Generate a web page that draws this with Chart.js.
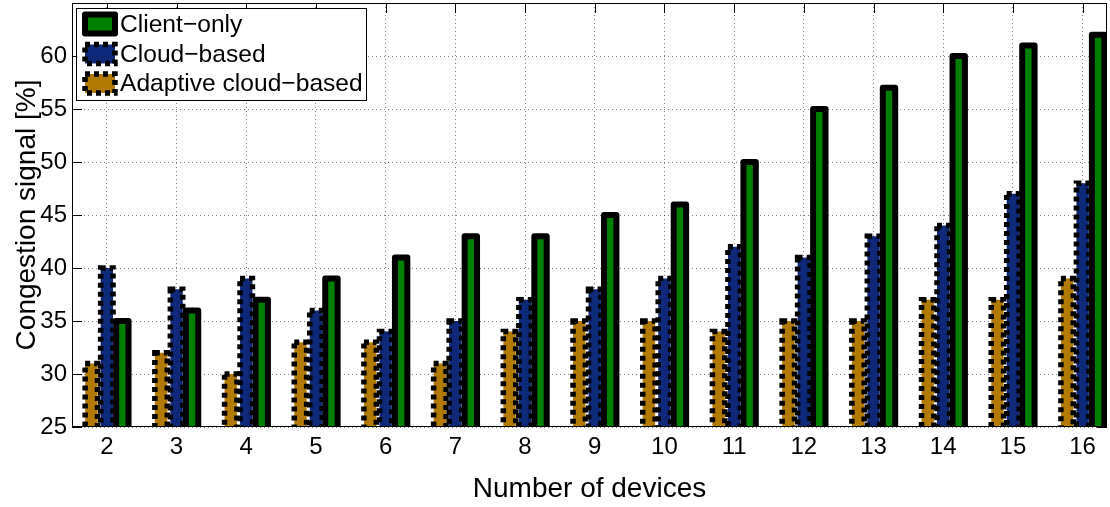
<!DOCTYPE html>
<html>
<head>
<meta charset="utf-8">
<script src="https://cdn.jsdelivr.net/npm/chart.js@4"></script>
<style>
html,body{margin:0;padding:0;background:#fff;}
#wrap{width:1110px;height:507px;}
</style>
</head>
<body>
<div id="wrap"><canvas id="c" width="1110" height="507"></canvas></div>
<script>
// ---- data ----
const devices = [2, 3, 4, 5, 6, 7, 8, 9, 10, 11, 12, 13, 14, 15, 16];
const clientOnly    = [35, 36, 37, 39, 41, 43, 43, 45, 46, 50, 55, 57, 60, 61, 62];
const cloudBased    = [40, 38, 39, 36, 34, 35, 37, 38, 39, 42, 41, 43, 44, 47, 48];
const adaptiveCloud = [31, 32, 30, 33, 33, 31, 34, 35, 35, 34, 35, 35, 37, 37, 39];
const yTicks = [25, 30, 35, 40, 45, 50, 55, 60];
const seriesNames = ['Client\u2212only', 'Cloud\u2212based', 'Adaptive cloud\u2212based'];

// ---- styles ----
const FONT = "'Liberation Sans', Arial, Helvetica, sans-serif";
const GREEN = 'rgb(0,128,0)';
const BLUE = 'rgb(14,40,122)';
const GOLD = 'rgb(178,122,0)';
const GRID = 'rgba(0,0,0,0.5)';
const TICKLEN = 10;

const pts = arr => devices.map((d, i) => ({x: d, y: arr[i]}));

const outlines = {
  solid:  {width: 6, dash: [], join: 'round'},
  dotted: {width: 5.5, dash: [5, 4], join: 'miter'}
};

function strokeOutline(ctx, left, top, w, h, o) {
  ctx.save();
  ctx.strokeStyle = '#000';
  ctx.lineWidth = o.width;
  ctx.setLineDash(o.dash);
  ctx.lineJoin = o.join;
  ctx.lineCap = 'butt';
  ctx.strokeRect(left, top, w, h);
  ctx.restore();
}

const matlabLook = {
  id: 'matlabLook',
  beforeDatasetsDraw(chart) {
    const {ctx, chartArea: a, scales: {x, y}} = chart;
    ctx.save();
    ctx.strokeStyle = '#000';
    ctx.lineWidth = 1;
    ctx.beginPath();
    x.ticks.forEach(t => {
      const px = Math.round(x.getPixelForValue(t.value)) + 0.5;
      ctx.moveTo(px, a.bottom); ctx.lineTo(px, a.bottom - TICKLEN);
      ctx.moveTo(px, a.top); ctx.lineTo(px, a.top + TICKLEN);
    });
    y.ticks.forEach(t => {
      const py = Math.round(y.getPixelForValue(t.value)) + 0.5;
      ctx.moveTo(a.left, py); ctx.lineTo(a.left + TICKLEN, py);
      ctx.moveTo(a.right, py); ctx.lineTo(a.right - TICKLEN, py);
    });
    ctx.stroke();
    ctx.restore();
  },
  afterDatasetsDraw(chart) {
    const {ctx, chartArea: a} = chart;
    ctx.save();
    ctx.beginPath();
    ctx.rect(a.left, a.top, a.right - a.left, a.bottom - a.top);
    ctx.clip();
    chart.data.datasets.forEach((ds, i) => {
      const meta = chart.getDatasetMeta(i);
      meta.data.forEach(bar => {
        const p = bar.getProps(['x', 'y', 'base', 'width'], true);
        strokeOutline(ctx, p.x - p.width / 2, p.y, p.width, p.base - p.y + 10, outlines[ds.outlineStyle]);
      });
    });
    ctx.restore();
    // axes box
    ctx.save();
    ctx.strokeStyle = '#000';
    ctx.lineWidth = 1;
    ctx.strokeRect(Math.round(a.left) + 0.5, Math.round(a.top) + 0.5,
                   Math.round(a.right - a.left) - 1, Math.round(a.bottom - a.top) - 1);
    ctx.restore();
  },
  afterDraw(chart) {
    const {ctx} = chart;
    const order = [2, 1, 0]; // Client-only, Cloud-based, Adaptive
    const bx = 76.5, by = 8.5, bw = 290, bh = 92;
    ctx.save();
    ctx.fillStyle = '#fff';
    ctx.fillRect(bx, by, bw, bh);
    ctx.strokeStyle = '#000';
    ctx.lineWidth = 1;
    ctx.strokeRect(bx, by, bw, bh);
    const rows = [24, 54, 83.5];
    order.forEach((di, r) => {
      const ds = chart.data.datasets[di];
      const cy = rows[r];
      const sx = 85, sw = 30, sh = 19;
      ctx.fillStyle = ds.backgroundColor;
      ctx.fillRect(sx, cy - sh / 2, sw, sh);
      strokeOutline(ctx, sx, cy - sh / 2, sw, sh, outlines[ds.outlineStyle]);
      ctx.fillStyle = '#000';
      ctx.font = '24.6px ' + FONT;
      ctx.textBaseline = 'middle';
      ctx.textAlign = 'left';
      ctx.fillText(ds.label, 120, cy + 1);
    });
    ctx.restore();
  }
};

new Chart(document.getElementById('c'), {
  type: 'bar',
  data: {
    datasets: [
      {label: seriesNames[2], data: pts(adaptiveCloud), backgroundColor: GOLD, borderWidth: 0, outlineStyle: 'dotted'},
      {label: seriesNames[1], data: pts(cloudBased),    backgroundColor: BLUE, borderWidth: 0, outlineStyle: 'dotted'},
      {label: seriesNames[0], data: pts(clientOnly),    backgroundColor: GREEN, borderWidth: 0, outlineStyle: 'solid'}
    ]
  },
  options: {
    responsive: false,
    animation: false,
    layout: {padding: {top: 3, right: 3, left: 0, bottom: 0}},
    datasets: {bar: {categoryPercentage: 0.667, barPercentage: 0.8}},
    plugins: {legend: {display: false}, tooltip: {enabled: false}},
    scales: {
      x: {
        type: 'linear',
        min: 1.5, max: 16.35,
        offset: false,
        afterBuildTicks: s => { s.ticks = devices.map(v => ({value: v})); },
        afterFit: s => { s.height = 80; s.paddingLeft = 0; s.paddingRight = 0; },
        grid: {offset: false, color: GRID, lineWidth: 1, drawTicks: false},
        border: {display: false, dash: [1, 3]},
        ticks: {padding: 6, autoSkip: false, maxRotation: 0, color: '#000',
                font: {family: FONT, size: 24}, callback: v => String(v)},
        title: {display: true, text: 'Number of devices', color: '#000',
                font: {family: FONT, size: 28}, padding: {top: 0, bottom: 1}}
      },
      y: {
        min: 25, max: 65,
        afterBuildTicks: s => { s.ticks = yTicks.map(v => ({value: v})); },
        afterFit: s => { s.width = 72; s.paddingTop = 0; s.paddingBottom = 0; },
        grid: {color: GRID, lineWidth: 1, drawTicks: false},
        border: {display: false, dash: [1, 3]},
        ticks: {padding: 5, color: '#000', font: {family: FONT, size: 24}, callback: v => String(v)},
        title: {display: true, text: 'Congestion signal [%]', color: '#000',
                font: {family: FONT, size: 28}, padding: {top: 10, bottom: 0}}
      }
    }
  },
  plugins: [matlabLook]
});
</script>
</body>
</html>
